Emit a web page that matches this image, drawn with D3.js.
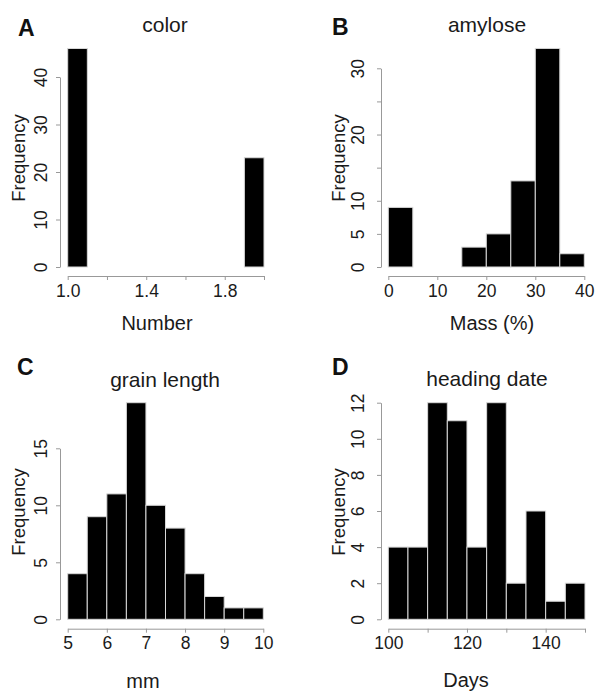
<!DOCTYPE html>
<html lang="en">
  <head>
    <meta charset="UTF-8" />
    <title>Histograms</title>
    <style>
      body {
        margin: 0;
        background: #ffffff;
      }
      svg {
        font-family: "Liberation Sans", Arial, Helvetica, sans-serif;
      }
      .bar {
        fill: #000000;
        stroke: #d8d8d8;
        stroke-width: 1px;
      }
      .axis path,
      .axis line {
        stroke: #999999;
        stroke-width: 1px;
      }
      .axis text {
        fill: #1a1a1a;
        font-size: 17.5px;
      }
      .title {
        font-size: 21px;
        fill: #1a1a1a;
      }
      .xlab {
        font-size: 20px;
        fill: #1a1a1a;
      }
      .ylab {
        font-size: 18.5px;
        fill: #1a1a1a;
      }
      .letter {
        font-size: 23px;
        font-weight: bold;
        fill: #111111;
      }
    </style>
    <script src="https://d3js.org/d3.v7.min.js"></script>
  </head>
  <body>
    <svg id="chart"></svg>
    <script>
      // A: color
      const colorBreaks = [1.0, 1.1, 1.2, 1.3, 1.4, 1.5, 1.6, 1.7, 1.8, 1.9, 2.0];
      const colorCounts = [46, 0, 0, 0, 0, 0, 0, 0, 0, 23];
      const colorXTicks = [1.0, 1.2, 1.4, 1.6, 1.8, 2.0];
      const colorXLabels = ["1.0", "", "1.4", "", "1.8", ""];
      const colorYTicks = [0, 10, 20, 30, 40];

      // B: amylose
      const amyloseBreaks = [0, 5, 10, 15, 20, 25, 30, 35, 40];
      const amyloseCounts = [9, 0, 0, 3, 5, 13, 33, 2];
      const amyloseXTicks = [0, 10, 20, 30, 40];
      const amyloseYTicks = [0, 5, 10, 15, 20, 25, 30];
      const amyloseYLabels = ["0", "5", "10", "", "20", "", "30"];

      // C: grain length
      const grainBreaks = [5, 5.5, 6, 6.5, 7, 7.5, 8, 8.5, 9, 9.5, 10];
      const grainCounts = [4, 9, 11, 19, 10, 8, 4, 2, 1, 1];
      const grainXTicks = [5, 6, 7, 8, 9, 10];
      const grainYTicks = [0, 5, 10, 15];

      // D: heading date
      const headingBreaks = [100, 105, 110, 115, 120, 125, 130, 135, 140, 145, 150];
      const headingCounts = [4, 4, 12, 11, 4, 12, 2, 6, 1, 2];
      const headingXTicks = [100, 110, 120, 130, 140, 150];
      const headingXLabels = ["100", "", "120", "", "140", ""];
      const headingYTicks = [0, 2, 4, 6, 8, 10, 12];

      const width = 595;
      const height = 695;

      const svg = d3.select("#chart").attr("width", width).attr("height", height);

      const panels = [
        {
          letter: "A", title: "color", xlab: "Number",
          breaks: colorBreaks, counts: colorCounts,
          xTicks: colorXTicks, xLabels: colorXLabels,
          yTicks: colorYTicks, yLabels: colorYTicks.map(String),
          xDomain: [1, 2], xRange: [67.7, 264],
          yDomain: [0, 40], yRange: [267, 77],
          axisX: 60, axisY: 276, yTickOff: 13, xTickOff: 21,
          letterPos: [18, 36], titlePos: [165, 32],
          xlabPos: [157, 330], ylabPos: [25, 158]
        },
        {
          letter: "B", title: "amylose", xlab: "Mass (%)",
          breaks: amyloseBreaks, counts: amyloseCounts,
          xTicks: amyloseXTicks, xLabels: amyloseXTicks.map(String),
          yTicks: amyloseYTicks, yLabels: amyloseYLabels,
          xDomain: [0, 40], xRange: [388.3, 584.3],
          yDomain: [0, 30], yRange: [267, 68.3],
          axisX: 381, axisY: 276, yTickOff: 17.5, xTickOff: 21,
          letterPos: [332, 35], titlePos: [487, 32],
          xlabPos: [492, 330], ylabPos: [345, 158]
        },
        {
          letter: "C", title: "grain length", xlab: "mm",
          breaks: grainBreaks, counts: grainCounts,
          xTicks: grainXTicks, xLabels: grainXTicks.map(String),
          yTicks: grainYTicks, yLabels: grainYTicks.map(String),
          xDomain: [5, 10], xRange: [67.7, 263.3],
          yDomain: [0, 15], yRange: [619.3, 448.3],
          axisX: 60, axisY: 628.7, yTickOff: 13, xTickOff: 20,
          letterPos: [17, 375], titlePos: [165, 387],
          xlabPos: [143, 688], ylabPos: [25, 512]
        },
        {
          letter: "D", title: "heading date", xlab: "Days",
          breaks: headingBreaks, counts: headingCounts,
          xTicks: headingXTicks, xLabels: headingXLabels,
          yTicks: headingYTicks, yLabels: headingYTicks.map(String),
          xDomain: [100, 150], xRange: [388.3, 585],
          yDomain: [0, 12], yRange: [619.3, 402.7],
          axisX: 381, axisY: 628.7, yTickOff: 17.5, xTickOff: 20,
          letterPos: [332, 375], titlePos: [487, 386],
          xlabPos: [466, 687], ylabPos: [345, 512]
        }
      ];

      panels.forEach((p) => {
        const x = d3.scaleLinear().domain(p.xDomain).range(p.xRange);
        const y = d3.scaleLinear().domain(p.yDomain).range(p.yRange);
        const g = svg.append("g");

        const bins = p.counts.map((c, i) => ({ x0: p.breaks[i], x1: p.breaks[i + 1], n: c }));

        g.selectAll("rect")
          .data(bins.filter((d) => d.n > 0))
          .join("rect")
          .attr("class", "bar")
          .attr("x", (d) => x(d.x0))
          .attr("width", (d) => x(d.x1) - x(d.x0))
          .attr("y", (d) => y(d.n))
          .attr("height", (d) => y(0) - y(d.n));

        // x axis
        const xa = g.append("g")
          .attr("class", "axis")
          .attr("transform", `translate(0,${p.axisY})`)
          .call(
            d3.axisBottom(x)
              .tickValues(p.xTicks)
              .tickFormat((d, i) => p.xLabels[i])
              .tickSize(4)
              .tickSizeOuter(0)
          );
        xa.selectAll("text").attr("y", p.xTickOff).attr("dy", 0);

        // y axis
        const ya = g.append("g")
          .attr("class", "axis")
          .attr("transform", `translate(${p.axisX},0)`)
          .call(
            d3.axisLeft(y)
              .tickValues(p.yTicks)
              .tickFormat((d, i) => p.yLabels[i])
              .tickSize(4)
              .tickSizeOuter(0)
          );
        ya.selectAll("text")
          .attr("transform", "rotate(-90)")
          .attr("x", 0)
          .attr("y", -p.yTickOff)
          .attr("dy", 0)
          .attr("text-anchor", "middle");

        svg.append("text")
          .attr("class", "letter")
          .attr("x", p.letterPos[0])
          .attr("y", p.letterPos[1])
          .text(p.letter);

        svg.append("text")
          .attr("class", "title")
          .attr("x", p.titlePos[0])
          .attr("y", p.titlePos[1])
          .attr("text-anchor", "middle")
          .text(p.title);

        svg.append("text")
          .attr("class", "xlab")
          .attr("x", p.xlabPos[0])
          .attr("y", p.xlabPos[1])
          .attr("text-anchor", "middle")
          .text(p.xlab);

        svg.append("text")
          .attr("class", "ylab")
          .attr("transform", `translate(${p.ylabPos[0]},${p.ylabPos[1]}) rotate(-90)`)
          .attr("text-anchor", "middle")
          .text("Frequency");
      });
    </script>
  </body>
</html>
